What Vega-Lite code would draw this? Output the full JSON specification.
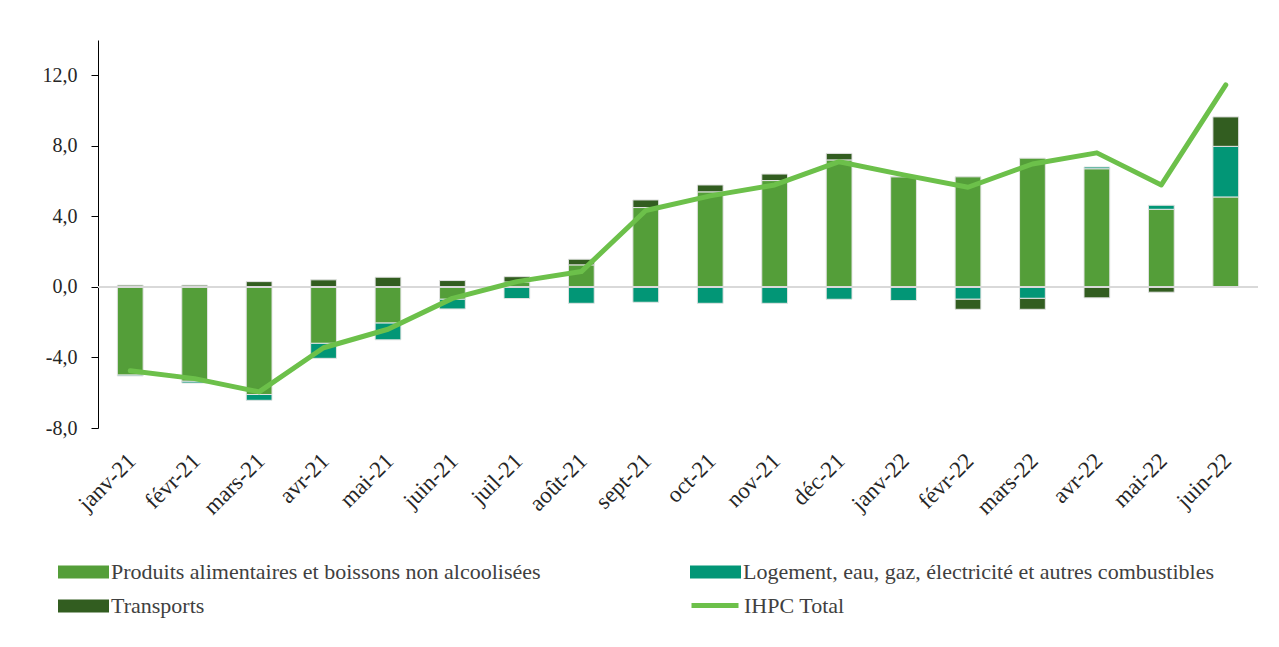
{
  "$schema": "https://vega.github.io/schema/vega-lite/v6.json",
  "width": 1160,
  "height": 388,
  "autosize": "none",
  "padding": {"left": 98, "top": 40, "right": 21, "bottom": 219},
  "background": "white",
  "config": {
    "view": {"stroke": null},
    "font": "Liberation Serif",
    "axis": {"labelOverlap": false},
    "legend": {"labelFont": "Liberation Serif"},
    "locale": {"number": {"decimal": ",", "thousands": " ", "grouping": [3], "currency": ["", " €"], "minus": "-"}}
  },
  "data": {
    "values": [
      {"mois": "janv-21", "serie": "Produits alimentaires et boissons non alcoolisées", "valeur": -5.0},
      {"mois": "janv-21", "serie": "Logement, eau, gaz, électricité et autres combustibles", "valeur": -0.05},
      {"mois": "janv-21", "serie": "Transports", "valeur": 0.1},
      {"mois": "janv-21", "serie": "IHPC Total", "valeur": -4.75},
      {"mois": "févr-21", "serie": "Produits alimentaires et boissons non alcoolisées", "valeur": -5.35},
      {"mois": "févr-21", "serie": "Logement, eau, gaz, électricité et autres combustibles", "valeur": -0.1},
      {"mois": "févr-21", "serie": "Transports", "valeur": 0.1},
      {"mois": "févr-21", "serie": "IHPC Total", "valeur": -5.2},
      {"mois": "mars-21", "serie": "Produits alimentaires et boissons non alcoolisées", "valeur": -6.1},
      {"mois": "mars-21", "serie": "Logement, eau, gaz, électricité et autres combustibles", "valeur": -0.33},
      {"mois": "mars-21", "serie": "Transports", "valeur": 0.3},
      {"mois": "mars-21", "serie": "IHPC Total", "valeur": -5.95},
      {"mois": "avr-21", "serie": "Produits alimentaires et boissons non alcoolisées", "valeur": -3.2},
      {"mois": "avr-21", "serie": "Logement, eau, gaz, électricité et autres combustibles", "valeur": -0.85},
      {"mois": "avr-21", "serie": "Transports", "valeur": 0.4},
      {"mois": "avr-21", "serie": "IHPC Total", "valeur": -3.45},
      {"mois": "mai-21", "serie": "Produits alimentaires et boissons non alcoolisées", "valeur": -2.05},
      {"mois": "mai-21", "serie": "Logement, eau, gaz, électricité et autres combustibles", "valeur": -0.95},
      {"mois": "mai-21", "serie": "Transports", "valeur": 0.55},
      {"mois": "mai-21", "serie": "IHPC Total", "valeur": -2.4},
      {"mois": "juin-21", "serie": "Produits alimentaires et boissons non alcoolisées", "valeur": -0.7},
      {"mois": "juin-21", "serie": "Logement, eau, gaz, électricité et autres combustibles", "valeur": -0.55},
      {"mois": "juin-21", "serie": "Transports", "valeur": 0.36},
      {"mois": "juin-21", "serie": "IHPC Total", "valeur": -0.65},
      {"mois": "juil-21", "serie": "Produits alimentaires et boissons non alcoolisées", "valeur": 0.28},
      {"mois": "juil-21", "serie": "Logement, eau, gaz, électricité et autres combustibles", "valeur": -0.66},
      {"mois": "juil-21", "serie": "Transports", "valeur": 0.3},
      {"mois": "juil-21", "serie": "IHPC Total", "valeur": 0.3},
      {"mois": "août-21", "serie": "Produits alimentaires et boissons non alcoolisées", "valeur": 1.25},
      {"mois": "août-21", "serie": "Logement, eau, gaz, électricité et autres combustibles", "valeur": -0.93},
      {"mois": "août-21", "serie": "Transports", "valeur": 0.32},
      {"mois": "août-21", "serie": "IHPC Total", "valeur": 0.87},
      {"mois": "sept-21", "serie": "Produits alimentaires et boissons non alcoolisées", "valeur": 4.5},
      {"mois": "sept-21", "serie": "Logement, eau, gaz, électricité et autres combustibles", "valeur": -0.87},
      {"mois": "sept-21", "serie": "Transports", "valeur": 0.43},
      {"mois": "sept-21", "serie": "IHPC Total", "valeur": 4.33},
      {"mois": "oct-21", "serie": "Produits alimentaires et boissons non alcoolisées", "valeur": 5.39},
      {"mois": "oct-21", "serie": "Logement, eau, gaz, électricité et autres combustibles", "valeur": -0.93},
      {"mois": "oct-21", "serie": "Transports", "valeur": 0.39},
      {"mois": "oct-21", "serie": "IHPC Total", "valeur": 5.16},
      {"mois": "nov-21", "serie": "Produits alimentaires et boissons non alcoolisées", "valeur": 6.03},
      {"mois": "nov-21", "serie": "Logement, eau, gaz, électricité et autres combustibles", "valeur": -0.93},
      {"mois": "nov-21", "serie": "Transports", "valeur": 0.37},
      {"mois": "nov-21", "serie": "IHPC Total", "valeur": 5.78},
      {"mois": "déc-21", "serie": "Produits alimentaires et boissons non alcoolisées", "valeur": 7.2},
      {"mois": "déc-21", "serie": "Logement, eau, gaz, électricité et autres combustibles", "valeur": -0.7},
      {"mois": "déc-21", "serie": "Transports", "valeur": 0.37},
      {"mois": "déc-21", "serie": "IHPC Total", "valeur": 7.1},
      {"mois": "janv-22", "serie": "Produits alimentaires et boissons non alcoolisées", "valeur": 6.25},
      {"mois": "janv-22", "serie": "Logement, eau, gaz, électricité et autres combustibles", "valeur": -0.77},
      {"mois": "janv-22", "serie": "Transports", "valeur": 0.0},
      {"mois": "janv-22", "serie": "IHPC Total", "valeur": 6.35},
      {"mois": "févr-22", "serie": "Produits alimentaires et boissons non alcoolisées", "valeur": 6.24},
      {"mois": "févr-22", "serie": "Logement, eau, gaz, électricité et autres combustibles", "valeur": -0.7},
      {"mois": "févr-22", "serie": "Transports", "valeur": -0.57},
      {"mois": "févr-22", "serie": "IHPC Total", "valeur": 5.65},
      {"mois": "mars-22", "serie": "Produits alimentaires et boissons non alcoolisées", "valeur": 7.3},
      {"mois": "mars-22", "serie": "Logement, eau, gaz, électricité et autres combustibles", "valeur": -0.65},
      {"mois": "mars-22", "serie": "Transports", "valeur": -0.62},
      {"mois": "mars-22", "serie": "IHPC Total", "valeur": 6.97},
      {"mois": "avr-22", "serie": "Produits alimentaires et boissons non alcoolisées", "valeur": 6.7},
      {"mois": "avr-22", "serie": "Logement, eau, gaz, électricité et autres combustibles", "valeur": 0.1},
      {"mois": "avr-22", "serie": "Transports", "valeur": -0.62},
      {"mois": "avr-22", "serie": "IHPC Total", "valeur": 7.6},
      {"mois": "mai-22", "serie": "Produits alimentaires et boissons non alcoolisées", "valeur": 4.4},
      {"mois": "mai-22", "serie": "Logement, eau, gaz, électricité et autres combustibles", "valeur": 0.23},
      {"mois": "mai-22", "serie": "Transports", "valeur": -0.3},
      {"mois": "mai-22", "serie": "IHPC Total", "valeur": 5.78},
      {"mois": "juin-22", "serie": "Produits alimentaires et boissons non alcoolisées", "valeur": 5.1},
      {"mois": "juin-22", "serie": "Logement, eau, gaz, électricité et autres combustibles", "valeur": 2.87},
      {"mois": "juin-22", "serie": "Transports", "valeur": 1.67},
      {"mois": "juin-22", "serie": "IHPC Total", "valeur": 11.45}
    ]
  },
  "layer": [
    {
      "transform": [
        {"filter": "datum.serie !== 'IHPC Total'"},
        {"calculate": "indexof(['Produits alimentaires et boissons non alcoolisées','Logement, eau, gaz, électricité et autres combustibles','Transports'], datum.serie)", "as": "rang"}
      ],
      "mark": {"type": "bar", "stroke": "#e3e3e3", "strokeWidth": 1},
      "encoding": {
        "x": {
          "field": "mois", "type": "nominal", "sort": null,
          "scale": {"paddingInner": 0.6, "paddingOuter": 0.3},
          "axis": {
            "title": null, "domain": false, "ticks": false,
            "labelAngle": -45, "labelAlign": "right", "labelBaseline": "middle",
            "labelPadding": 29, "labelOffset": 2,
            "labelFont": "Liberation Serif", "labelFontSize": 23, "labelColor": "#262626"
          }
        },
        "y": {
          "field": "valeur", "type": "quantitative", "stack": "zero",
          "scale": {"domain": [-8, 14], "nice": false, "zero": false},
          "axis": {
            "title": null, "grid": false, "values": [-8, -6, -4, -2, 0, 2, 4, 6, 8, 10, 12, 14],
            "labelOverlap": false, "labelFlush": false,
            "format": ".1f", "domainColor": "#000000", "tickColor": "#000000", "tickSize": 7,
            "labelPadding": 14, "labelFont": "Liberation Serif", "labelFontSize": 20, "labelColor": "#262626"
          }
        },
        "order": {"field": "rang", "type": "quantitative", "sort": "ascending"},
        "color": {
          "field": "serie", "type": "nominal",
          "scale": {
            "domain": ["Produits alimentaires et boissons non alcoolisées", "Transports", "Logement, eau, gaz, électricité et autres combustibles"],
            "range": ["#549E39", "#325D20", "#029676"]
          },
          "legend": {
            "orient": "none", "legendX": -41, "legendY": 521, "columns": 2,
            "columnPadding": 148, "rowPadding": 12, "padding": 0, "title": null,
            "symbolType": "M-1,-0.65H4.1V0.65H-1Z", "symbolSize": 400, "symbolStrokeWidth": 0,
            "labelOffset": 32, "labelLimit": 0,
            "labelFont": "Liberation Serif", "labelFontSize": 22, "labelColor": "#404040"
          }
        }
      }
    },
    {
      "mark": {"type": "rule", "color": "#d9d9d9", "strokeWidth": 2},
      "encoding": {"y": {"datum": 0, "type": "quantitative"}}
    },
    {
      "transform": [{"filter": "datum.serie === 'IHPC Total'"}],
      "mark": {"type": "line", "strokeWidth": 5, "strokeCap": "round", "strokeJoin": "round"},
      "encoding": {
        "x": {
          "field": "mois", "type": "nominal", "sort": null,
          "axis": {
            "title": null, "domain": false, "ticks": false,
            "labelAngle": -45, "labelAlign": "right", "labelBaseline": "middle",
            "labelPadding": 29, "labelOffset": 2,
            "labelFont": "Liberation Serif", "labelFontSize": 23, "labelColor": "#262626"
          }
        },
        "y": {
          "field": "valeur", "type": "quantitative",
          "axis": {
            "title": null, "grid": false, "values": [-8, -6, -4, -2, 0, 2, 4, 6, 8, 10, 12, 14],
            "labelOverlap": false, "labelFlush": false,
            "format": ".1f", "domainColor": "#000000", "tickColor": "#000000", "tickSize": 7,
            "labelPadding": 14, "labelFont": "Liberation Serif", "labelFontSize": 20, "labelColor": "#262626"
          }
        },
        "stroke": {
          "field": "serie", "type": "nominal",
          "scale": {"domain": ["IHPC Total"], "range": ["#6CC04A"]},
          "legend": {
            "orient": "none", "legendX": 589, "legendY": 553, "padding": 0, "title": null,
            "symbolType": "M-0.8,0H3.9", "symbolSize": 400, "symbolStrokeWidth": 5,
            "symbolFillColor": "transparent",
            "labelOffset": 32, "labelLimit": 0,
            "labelFont": "Liberation Serif", "labelFontSize": 22, "labelColor": "#404040"
          }
        }
      }
    }
  ]
}
